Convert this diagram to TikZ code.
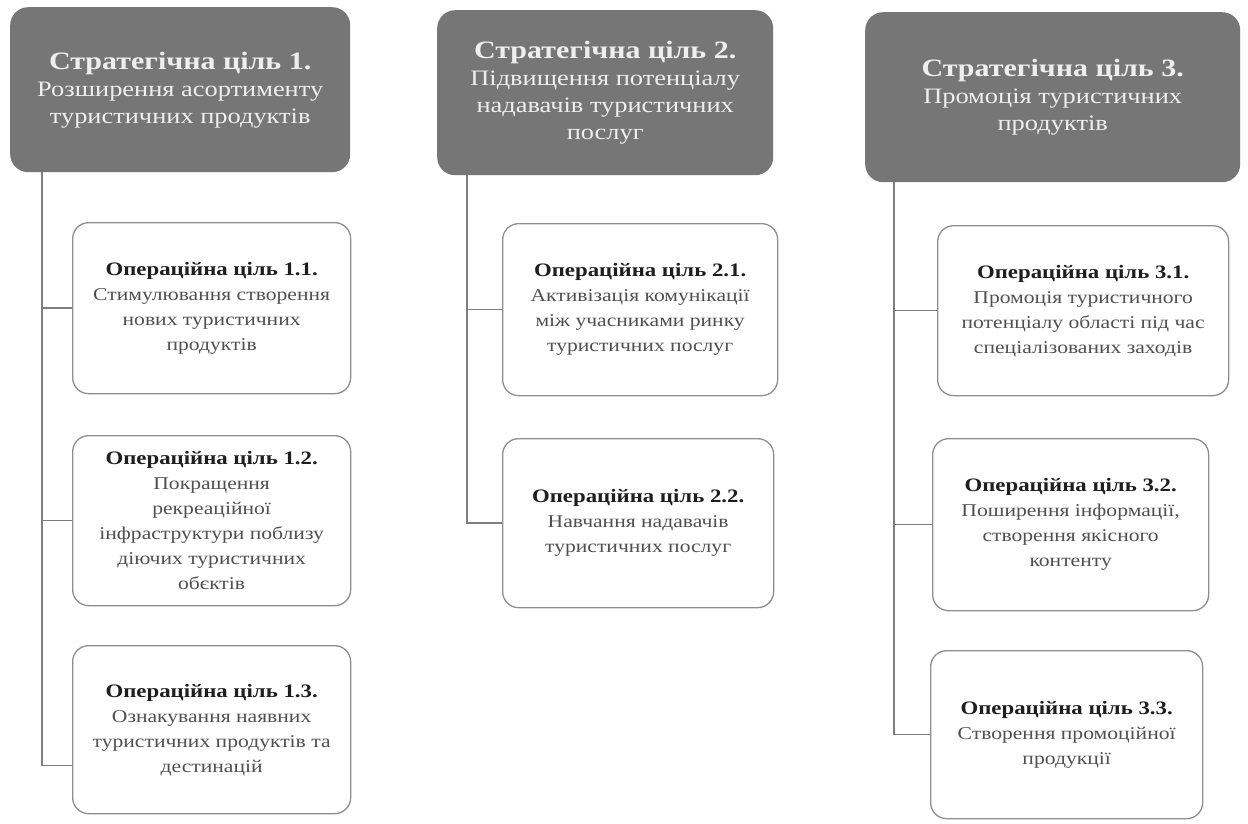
\documentclass[tikz,border=0pt]{standalone}
\usepackage{fontspec}
\setmainfont{Liberation Serif}[FakeStretch=1.2]
\definecolor{hdrgray}{HTML}{767676}
\definecolor{hdrtext}{HTML}{EEEEEE}
\definecolor{opgray}{HTML}{8E8E8E}
\definecolor{conngray}{HTML}{7E7E7E}
\definecolor{titletxt}{HTML}{1E1E1E}
\definecolor{bodytxt}{HTML}{505050}
\begin{document}
\begin{tikzpicture}[x=1pt,y=-1pt,
  strat/.style={fill=hdrgray, draw=none, rounded corners=18pt, anchor=north west,
    text=hdrtext, align=center, font=\fontsize{22}{27}\selectfont, inner sep=0pt},
  opbox/.style={draw=opgray, line width=1.3pt, fill=white, rounded corners=16pt,
    anchor=north west, align=center, font=\fontsize{18}{25}\selectfont,
    text=bodytxt, inner sep=0pt},
  conn/.style={draw=conngray, line width=1.6pt},
  sttl/.style={},
]
\fill[white] (0,0) rectangle (1248,823);
\useasboundingbox (0,0) rectangle (1248,823);
\newcommand\sgoal[1]{{\bfseries\fontsize{25}{28}\selectfont #1}}
\newcommand\ogoal[1]{{\bfseries\color{titletxt}\fontsize{19}{25}\selectfont #1}}

% strategic goals
\node[strat, minimum width=340pt, minimum height=165pt] (s1) at (10,7)
  {\sgoal{Стратегічна ціль 1.}\\Розширення асортименту\\туристичних продуктів};
\node[strat, minimum width=336pt, minimum height=165pt] (s2) at (437,10)
  {\sgoal{Стратегічна ціль 2.}\\Підвищення потенціалу\\надавачів туристичних\\послуг};
\node[strat, minimum width=375pt, minimum height=170pt] (s3) at (865,12)
  {\sgoal{Стратегічна ціль 3.}\\Промоція туристичних\\продуктів};

% operational goals
\node[opbox, minimum width=278pt, minimum height=171pt] (o11) at (72,222)
  {\ogoal{Операційна ціль 1.1.}\\Стимулювання створення\\нових туристичних\\продуктів};
\node[opbox, minimum width=278pt, minimum height=170pt] (o12) at (72,435)
  {\ogoal{Операційна ціль 1.2.}\\Покращення\\рекреаційної\\інфраструктури поблизу\\діючих туристичних\\обєктів};
\node[opbox, minimum width=278pt, minimum height=168pt] (o13) at (72,645)
  {\ogoal{Операційна ціль 1.3.}\\Ознакування наявних\\туристичних продуктів та\\дестинацій};
\node[opbox, minimum width=275pt, minimum height=172pt] (o21) at (502,223)
  {\ogoal{Операційна ціль 2.1.}\\Активізація комунікації\\між учасниками ринку\\туристичних послуг};
\node[opbox, minimum width=271pt, minimum height=169pt] (o22) at (502,438)
  {\ogoal{Операційна ціль 2.2.}\\Навчання надавачів\\туристичних послуг};
\node[opbox, minimum width=291pt, minimum height=170pt] (o31) at (937,225)
  {\ogoal{Операційна ціль 3.1.}\\Промоція туристичного\\потенціалу області під час\\спеціалізованих заходів};
\node[opbox, minimum width=276pt, minimum height=172pt] (o32) at (932,438)
  {\ogoal{Операційна ціль 3.2.}\\Поширення інформації,\\створення якісного\\контенту};
\node[opbox, minimum width=272pt, minimum height=168pt] (o33) at (930,650)
  {\ogoal{Операційна ціль 3.3.}\\Створення промоційної\\продукції};

% trunk x positions
\coordinate (x1) at (42,0);
\coordinate (x2) at (467,0);
\coordinate (x3) at (894,0);
\coordinate (e13) at ([yshift=-36pt]o13.west);

% connectors
\draw[conn] (s1.south -| x1) |- (e13);
\draw[conn] (o11.west -| x1) -- (o11.west);
\draw[conn] (o12.west -| x1) -- (o12.west);

\draw[conn] (s2.south -| x2) |- (o22.west);
\draw[conn] (o21.west -| x2) -- (o21.west);

\draw[conn] (s3.south -| x3) |- (o33.west);
\draw[conn] (o31.west -| x3) -- (o31.west);
\draw[conn] (o32.west -| x3) -- (o32.west);
\end{tikzpicture}
\end{document}
